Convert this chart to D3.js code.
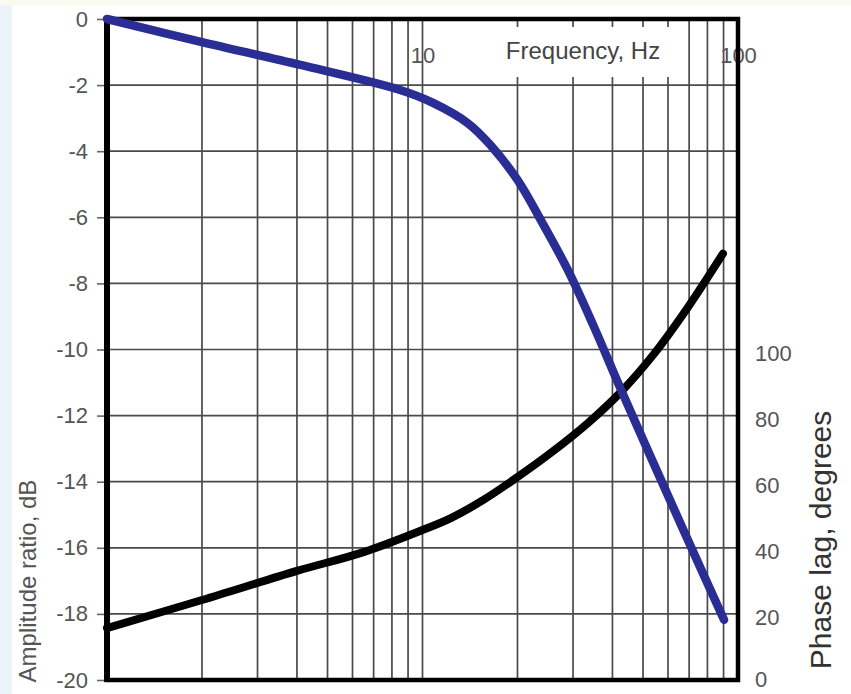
<!DOCTYPE html>
<html lang="en">
<head>
    <meta charset="UTF-8">
    <title>Amplitude ratio and phase lag vs frequency</title>
    <style>
        body { margin: 0; background: #fff; }
        svg text { font-family: "Liberation Sans", Arial, sans-serif; }
    </style>
</head>
<body>
    <script src="https://cdn.jsdelivr.net/npm/d3@7/dist/d3.min.js"></script>
    <script type="text/javascript">
        // amplitude ratio curve (blue)
        var ampFreq = [1, 2, 4.1, 8.5, 10.8, 13.9, 16.4, 20, 23.7, 28.9, 34.9, 42.5, 52.9, 67.4, 90.3];
        var ampDb   = [0, -0.7, -1.39, -2.15, -2.54, -3.15, -3.81, -4.87, -6.08, -7.6, -9.3, -11.2, -13.25, -15.5, -18.18];

        // phase lag curve (black)
        var phaseFreq = [1, 2, 4, 6.5, 10, 12.3, 15.6, 20, 25.5, 33.4, 42.5, 54.1, 69.4, 89.6];
        var phaseDeg  = [15.7, 24.2, 33.0, 38.7, 45.4, 49.0, 54.5, 61.4, 68.7, 77.7, 87.1, 98.6, 112.8, 129];

        var dbTicks = [0, -2, -4, -6, -8, -10, -12, -14, -16, -18, -20];
        var phaseTicks = [0, 20, 40, 60, 80, 100];
        var freqLabels = [10, 100];
        var freqGrid = [2, 3, 4, 5, 6, 7, 8, 9, 10, 20, 30, 40, 50, 60, 70, 80, 90];

        var w = 851, h = 694;
        // note: "top" is taken by window.top, so use plot* names
        var plotL = 107, plotR = 738, plotT = 19, plotB = 680;

        var svg = d3.select("body").append("svg").attr("width", w).attr("height", h);

        // faint slide background edges
        svg.append("rect").attr("x", 0).attr("y", 0).attr("width", w).attr("height", h).attr("fill", "#fff");
        svg.append("rect").attr("x", 0).attr("y", 0).attr("width", 12).attr("height", h).attr("fill", "#eef3f9");
        svg.append("rect").attr("x", 0).attr("y", 0).attr("width", w).attr("height", 5).attr("fill", "#fbfaee");

        var x = d3.scaleLog().domain([1, 100]).range([plotL, plotR]);
        var yAmp = d3.scaleLinear().domain([-20, 0]).range([plotB, plotT]);
        var yPh = d3.scaleLinear().domain([0, 200]).range([plotB, plotT]);

        // plain hyphen minus like the original slide
        var plain = function(d){ return String(d); };

        // grid
        var grid = svg.append("g").attr("stroke", "#4a4a4a").attr("stroke-width", 1.7);
        grid.selectAll("line.v")
            .data(freqGrid)
            .enter()
            .append("line")
            .attr("class", "v")
            .attr("x1", function(d){ return x(d); })
            .attr("x2", function(d){ return x(d); })
            .attr("y1", plotT)
            .attr("y2", plotB);
        grid.selectAll("line.hz")
            .data(dbTicks.slice(1, -1))
            .enter()
            .append("line")
            .attr("class", "hz")
            .attr("x1", plotL)
            .attr("x2", plotR)
            .attr("y1", function(d){ return yAmp(d); })
            .attr("y2", function(d){ return yAmp(d); });

        // white box behind the frequency title
        svg.append("rect")
            .attr("x", 440).attr("y", 27)
            .attr("width", 242).attr("height", 50)
            .attr("fill", "#fff");

        svg.append("text")
            .attr("x", 583).attr("y", 59)
            .attr("text-anchor", "middle")
            .attr("font-size", "24px")
            .attr("fill", "#444")
            .text("Frequency, Hz");

        // left axis
        var axL = svg.append("g")
            .attr("transform", "translate(" + plotL + ",0)")
            .call(d3.axisLeft(yAmp).tickValues(dbTicks).tickSize(10).tickPadding(9).tickFormat(plain));
        axL.select(".domain").remove();
        axL.selectAll("line").attr("stroke", "#666").attr("stroke-width", 1.6);
        axL.selectAll("text").attr("font-size", "22px").attr("fill", "#555")
            .attr("font-family", "Liberation Sans, Arial, sans-serif");

        // right axis
        var axR = svg.append("g")
            .attr("transform", "translate(" + plotR + ",0)")
            .call(d3.axisRight(yPh).tickValues(phaseTicks).tickSize(0).tickPadding(17).tickFormat(plain));
        axR.select(".domain").remove();
        axR.selectAll("text").attr("font-size", "22px").attr("fill", "#555")
            .attr("dy", function(d){ return d === 0 ? "0.3em" : "0.5em"; })
            .attr("font-family", "Liberation Sans, Arial, sans-serif");

        // top frequency labels inside the plot
        var axT = svg.append("g")
            .attr("transform", "translate(0,63)")
            .call(d3.axisTop(x).tickValues(freqLabels).tickSize(0).tickPadding(0).tickFormat(plain));
        axT.select(".domain").remove();
        axT.selectAll("text").attr("font-size", "22px").attr("fill", "#555")
            .attr("font-family", "Liberation Sans, Arial, sans-serif");

        // axis titles
        svg.append("text")
            .attr("transform", "translate(36,581) rotate(-90)")
            .attr("text-anchor", "middle")
            .attr("font-size", "24px")
            .attr("fill", "#555")
            .text("Amplitude ratio, dB");

        svg.append("text")
            .attr("transform", "translate(831,540) rotate(-90)")
            .attr("text-anchor", "middle")
            .attr("font-size", "30px")
            .attr("fill", "#333")
            .text("Phase lag, degrees");

        // frame
        svg.append("rect")
            .attr("x", plotL).attr("y", plotT)
            .attr("width", plotR - plotL).attr("height", plotB - plotT)
            .attr("fill", "none")
            .attr("stroke", "#000")
            .attr("stroke-width", 4.5);
        svg.append("line")
            .attr("x1", plotL).attr("x2", plotL)
            .attr("y1", plotT - 2).attr("y2", plotB + 2)
            .attr("stroke", "#000").attr("stroke-width", 6);

        // curves
        var ampLine = d3.line()
            .x(function(d, i){ return x(ampFreq[i]); })
            .y(function(d){ return yAmp(d); })
            .curve(d3.curveCatmullRom.alpha(0.5));
        var phaseLine = d3.line()
            .x(function(d, i){ return x(phaseFreq[i]); })
            .y(function(d){ return yPh(d); })
            .curve(d3.curveCatmullRom.alpha(0.5));

        svg.append("path")
            .datum(phaseDeg)
            .attr("d", phaseLine)
            .attr("fill", "none")
            .attr("stroke", "#000")
            .attr("stroke-width", 8)
            .attr("stroke-linecap", "round");

        svg.append("path")
            .datum(ampDb)
            .attr("d", ampLine)
            .attr("fill", "none")
            .attr("stroke", "#2a2d94")
            .attr("stroke-width", 8.5)
            .attr("stroke-linecap", "round");
    </script>
</body>
</html>
